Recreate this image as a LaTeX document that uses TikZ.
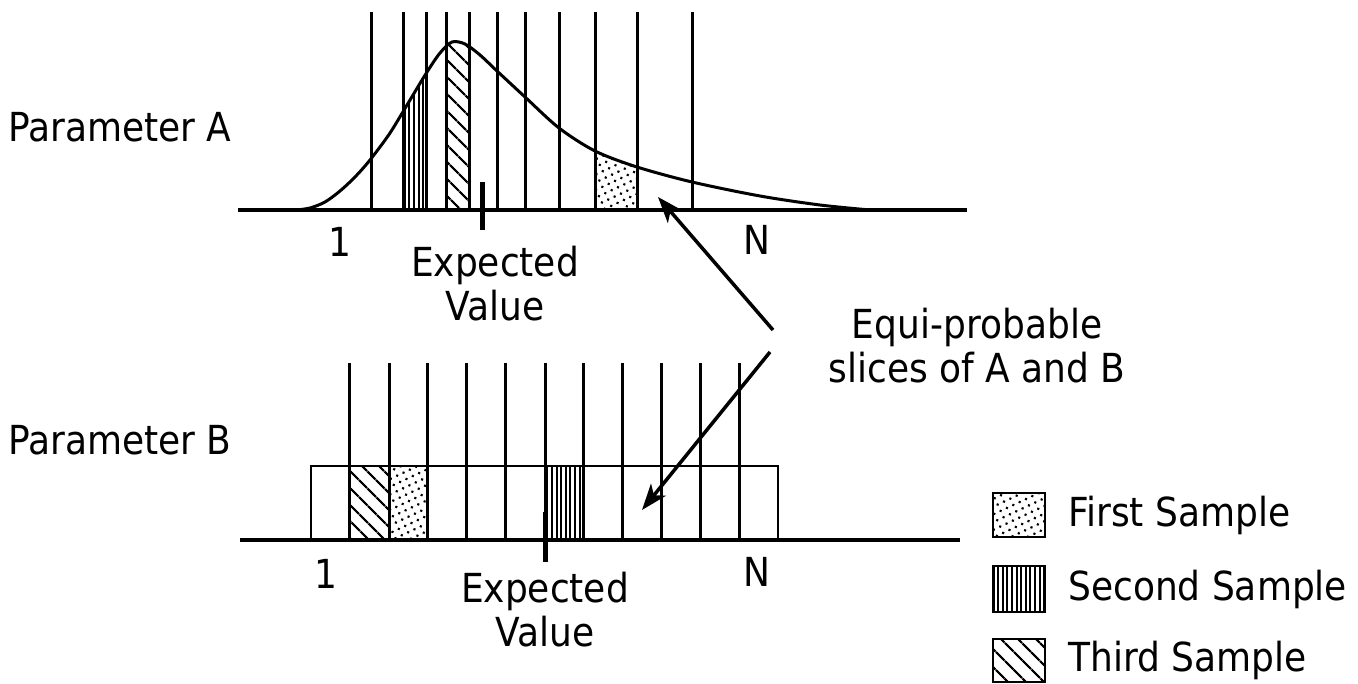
\documentclass[tikz,border=0pt]{standalone}
\usepackage{fontspec}
\setmainfont{DejaVu Sans}[FakeStretch=0.9]
\usetikzlibrary{patterns.meta,arrows.meta}
\begin{document}
\begin{tikzpicture}[x=1pt,y=-1pt,
  txt/.style={font=\fontsize{40}{44}\selectfont, inner sep=0pt, align=center},
  slice/.style={line width=3pt},
  axis/.style={line width=4pt},
  tick/.style={line width=5pt},
  dotsfill/.style={pattern={Dots[distance=7pt, radius=1.5pt, angle=25]}},
  vlinesfill/.style={pattern={Lines[angle=90, distance=4.6pt, line width=2pt]}},
  hatchfill/.style={pattern={Lines[angle=-45, distance=13pt, line width=2.4pt]}},
  pointer/.style={line width=3.5pt, -{Stealth[length=26pt, width=19pt, inset=7pt]}},
  legbox/.style={draw, line width=2.5pt}
]
\useasboundingbox (0,0) rectangle (1358,684);
\def\curvepath{plot[smooth, tension=0.5] coordinates {(296,210) (310,208) (325,202) (340,191) (355,177) (370,160) (390,133) (410,100) (427,72) (440,53) (452,42) (465,44) (480,55) (497,71) (525,97) (559,128) (595,151) (637,167) (692,182) (760,196) (820,205) (870,210)}}

% ---------- Parameter A ----------
\begin{scope}
  \clip \curvepath -- (870,212) -- (296,212) -- cycle;
  \fill[vlinesfill] (403,0) rectangle (426,212);
  \fill[hatchfill] (446,0) rectangle (469,212);
  \fill[dotsfill] (595,0) rectangle (637,212);
\end{scope}
\foreach \x in {371,403,426,446,469,497,525,559,595,637,692}
  \draw[slice] (\x,12) -- (\x,210);
\draw[line width=3pt] \curvepath;
\draw[axis] (238,210) -- (967,210);
\draw[tick] (482,182) -- (482,230);

\node[txt, anchor=west] (pa) at (8,127) {Parameter A};
\node[txt] (a1) at (340,242) {1};
\node[txt] (aN) at (757,240) {N};
\node[txt] (aev) at (495,284) {Expected\\Value};

% ---------- Parameter B ----------
\fill[hatchfill] (349,466) rectangle (389,540);
\fill[dotsfill] (389,466) rectangle (427,540);
\fill[vlinesfill] (545,466) rectangle (583,540);
\draw[line width=2.5pt] (311,466) rectangle (778,540);
\foreach \x in {349,389,427,466,505,545,583,622,661,700,739}
  \draw[slice] (\x,363) -- (\x,540);
\draw[axis] (240,540) -- (960,540);
\draw[tick] (545,512) -- (545,562);

\node[txt, anchor=west] (pb) at (8,440) {Parameter B};
\node[txt] (b1) at (326,574) {1};
\node[txt] (bN) at (757,572) {N};
\node[txt] (bev) at (545,610) {Expected\\Value};

% ---------- pointers ----------
\node[txt] (eq) at (977,346) {Equi-probable\\slices of A and B};
\coordinate (p1t) at (773,330);
\coordinate (p1h) at (658,197);
\coordinate (p2t) at (770,352);
\coordinate (p2h) at (642,510);
\draw[pointer] (p1t) -- (p1h);
\draw[pointer] (p2t) -- (p2h);

% ---------- legend ----------
\fill[dotsfill] (993,493) rectangle (1045,537);
\draw[legbox] (993,493) rectangle (1045,537);
\fill[vlinesfill] (993,566) rectangle (1045,612);
\draw[legbox] (993,566) rectangle (1045,612);
\fill[hatchfill] (993,639) rectangle (1045,682);
\draw[legbox] (993,639) rectangle (1045,682);
\node[txt, anchor=west] (l1) at (1068,515) {First Sample};
\node[txt, anchor=west] (l2) at (1068,589) {Second Sample};
\node[txt, anchor=west] (l3) at (1068,660) {Third Sample};
\end{tikzpicture}
\end{document}
